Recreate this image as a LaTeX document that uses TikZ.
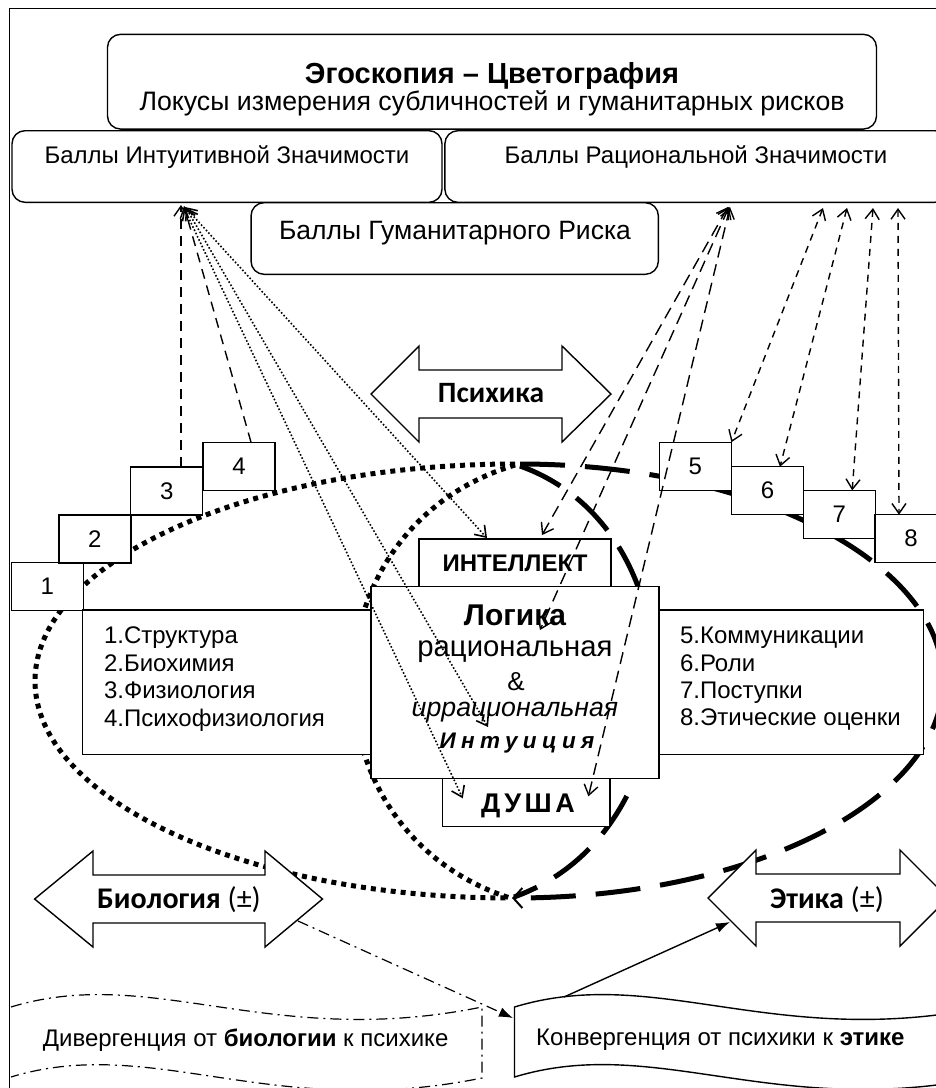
\documentclass[tikz,border=0pt]{standalone}
\usepackage{fontspec}
\setmainfont{Liberation Sans}
\newfontfamily\calib{Carlito}
\newfontfamily\spacedI[LetterSpace=24]{Liberation Sans}
\newfontfamily\spacedD[LetterSpace=13]{Liberation Sans}
\usetikzlibrary{arrows.meta,calc}
\begin{document}
\begin{tikzpicture}[x=1pt,y=-1pt,
  >={Straight Barb[length=10pt,width=14pt]},
  every node/.style={inner sep=0pt,outer sep=0pt},
  box/.style={draw=black,line width=1.4pt,fill=white},
  rbox/.style={box,rounded corners=13pt},
  stepbox/.style={box,minimum width=72pt,minimum height=48pt,font=\fontsize{24}{24}\selectfont},
  dotbig/.style={line width=5pt,dash pattern=on 5pt off 5pt},
  dashbig/.style={line width=5pt,dash pattern=on 45pt off 20pt},
  thindot/.style={line width=1.6pt,dash pattern=on 1.6pt off 2pt},
  dashA/.style={line width=1.4pt,dash pattern=on 10pt off 7pt},
  dashB/.style={line width=1.4pt,dash pattern=on 12pt off 7pt},
  dashC/.style={line width=1.4pt,dash pattern=on 7pt off 6pt},
  dashdot/.style={line width=1.2pt,dash pattern=on 11pt off 5pt on 2pt off 5pt},
  lbl/.style={font=\fontsize{24}{24}\selectfont},
  bigarrow/.style={draw=black,line width=1.4pt,fill=white,line join=miter}
]
\useasboundingbox (0,0) rectangle (936,1088);
\clip (0,0) rectangle (936,1088);
\fill[white] (0,0) rectangle (936,1088);

% ---- ellipse-like cycles (behind boxes)
\draw[dotbig] (515,464) .. controls (250,464) and (35,561) .. (35,681)
  .. controls (35,801) and (250,898) .. (510,898);
\draw[dotbig] (515,465) .. controls (300,530) and (300,830) .. (510,898);
\draw[dashbig,-{Straight Barb[length=9pt,width=20pt,line width=2pt]}] (520,464) .. controls (751,464) and (943,561) .. (943,681)
  .. controls (943,801) and (751,898) .. (512,898);
\draw[dashbig] (520,466) .. controls (700,530) and (700,830) .. (514,897);

% ---- top boxes
\node[rbox,minimum width=769pt,minimum height=94.7pt] (top) at (492,81.7) {};
\node[font=\bfseries\fontsize{29}{29}\selectfont] (title) at (492,76) {Эгоскопия – Цветография};
\node[font=\fontsize{26.7}{26.7}\selectfont] (subtitle) at (492,103) {Локусы измерения субличностей и гуманитарных рисков};
\node[rbox,minimum width=430pt,minimum height=71.6pt] (bint) at (227,166.5) {};
\node[rbox,minimum width=503pt,minimum height=71.6pt] (brat) at (696.4,166.5) {};
\node[lbl] (tInt) at (227,157) {Баллы Интуитивной Значимости};
\node[lbl] (tRat) at (696,157) {Баллы Рациональной Значимости};
\node[rbox,minimum width=407.3pt,minimum height=71.6pt] (bhum) at (454.7,238.5) {};
\node[font=\fontsize{26.5}{26.5}\selectfont] (tHum) at (455,233) {Баллы Гуманитарного Риска};

% ---- step boxes
\node[stepbox] (s1) at (47.2,586.4) {1};
\node[stepbox] (s2) at (94.9,538.9) {2};
\node[stepbox] (s3) at (166.7,490.9) {3};
\node[stepbox] (s4) at (239,466.2) {4};
\node[stepbox] (s5) at (695.4,466.2) {5};
\node[stepbox] (s6) at (767.5,490.7) {6};
\node[stepbox] (s7) at (839.2,514.4) {7};
\node[stepbox] (s8) at (911,538.7) {8};

% ---- list boxes and centre
\node[box,minimum width=288.3pt,minimum height=144.3pt] (ll) at (226.9,682.2) {};
\node[box,minimum width=264.3pt,minimum height=144.3pt] (rl) at (791.2,682.2) {};
\node[anchor=west,align=left,font=\fontsize{24}{27.4}\selectfont] (ltxt) at (104,679)
  {1.Структура\\2.Биохимия\\3.Физиология\\4.Психофизиология};
\node[anchor=west,align=left,font=\fontsize{24}{27.4}\selectfont] (rtxt) at (680,679)
  {5.Коммуникации\\6.Роли\\7.Поступки\\8.Этические оценки};
\node[box,minimum width=288pt,minimum height=191.6pt] (cen) at (515,682.5) {};
\node[box,minimum width=192pt,minimum height=47.7pt,font=\bfseries\fontsize{24}{24}\selectfont] (intel) at (515,562.9) {ИНТЕЛЛЕКТ};
\node[box,minimum width=167.3pt,minimum height=48.4pt] (dusha) at (526.4,802.5) {};
\node[font=\spacedD\bfseries\fontsize{27}{27}\selectfont] (tDusha) at (528,806) {ДУША};
\node[font=\bfseries\fontsize{30}{30}\selectfont] (tLog) at (515,615) {Логика};
\node[font=\fontsize{29.3}{29.3}\selectfont] (tRac) at (515,652) {рациональная};
\node[font=\fontsize{26}{26}\selectfont] (tAmp) at (516,682) {\&};
\node[font=\itshape\fontsize{26.7}{26.7}\selectfont] (tIrr) at (515,712) {иррациональная};
\node[font=\spacedI\bfseries\itshape\fontsize{22.5}{22.5}\selectfont] (tIntu) at (517,743) {Интуиция};

% ---- big double arrows
\draw[bigarrow] (371,394) -- (419,346) -- (419,370) -- (562,370) -- (562,346) -- (611,394)
  -- (562,442) -- (562,418) -- (419,418) -- (419,442) -- cycle;
\node[font=\calib\bfseries\fontsize{29.5}{29.5}\selectfont] (tPsy) at (491,393) {Психика};
\draw[bigarrow] (34.6,899) -- (93,851) -- (93,875) -- (265,875) -- (265,851) -- (322.5,899)
  -- (265,947) -- (265,923) -- (93,923) -- (93,947) -- cycle;
\node[font=\calib\fontsize{30}{30}\selectfont] (tBio) at (179,900) {\textbf{Биология} (±)};
\draw[bigarrow] (708,898) -- (756,850) -- (756,874) -- (900,874) -- (900,850) -- (948,898)
  -- (900,946) -- (900,922) -- (756,922) -- (756,946) -- cycle;
\node[font=\calib\fontsize{30}{30}\selectfont] (tEth) at (827,900) {\textbf{Этика} (±)};

% ---- wave boxes
\draw[dashdot] (11,1007) .. controls (152,964) and (270,1050) .. (482,1007) -- (482,1078)
  .. controls (270,1121) and (152,1034) .. (11,1077);
\node[font=\fontsize{24}{24}\selectfont] (tDiv) at (245.6,1040) {Дивергенция от \textbf{биологии} к психике};
\draw[line width=1.4pt] (514.5,1007) .. controls (656,964) and (774,1050) .. (986,1007) -- (986,1077)
  .. controls (774,1120) and (656,1034) .. (514.5,1077) -- cycle;
\node[font=\fontsize{24}{24}\selectfont] (tConv) at (720.4,1040) {Конвергенция от психики к \textbf{этике}};

% ---- connector anchor points
\coordinate (cI) at (181,205);
\coordinate (cR) at (728,207);
\coordinate (r5) at (823,208);
\coordinate (r6) at (847,208);
\coordinate (r7) at (873,208);
\coordinate (r8) at (898,208);
\coordinate (pIrr) at (488,727);
\coordinate (pLog) at (540,630);
\coordinate (bioOut) at (298,921);
\coordinate (convIn) at (513,1018);
\coordinate (convOut) at (564,997);
\coordinate (ethIn) at (730,922);

% ---- connectors
\draw[dashA,->] (cI |- s3.north) -- (cI);
\draw[dashA,->] ($(s4.north)+(12,0)$) -- ($(cI)+(3,1)$);
\draw[thindot,<->] ($(cI)+(4,2)$) -- ($(intel.north west)+(68,-1)$);
\draw[thindot,<->] ($(cI)+(5,3)$) -- (pIrr);
\draw[thindot,<->] ($(cI)+(3,3)$) -- ($(dusha.north west)+(20,20)$);
\draw[dashB,<->] (cR) -- ($(intel.north)+(27,-4)$);
\draw[dashB,<->] ($(cR)+(1,0)$) -- (pLog);
\draw[dashB,<->] ($(cR)+(2,0)$) -- ($(dusha.north)+(62,18)$);
\draw[dashC,<->] (r5) -- (s5.north east);
\draw[dashC,<->] (r6) -- ($(s6.north)+(12.5,0)$);
\draw[dashC,<->] (r7) -- ($(s7.north)+(13,0)$);
\draw[dashC,<->] (r8) -- ($(s8.north)+(-12,0)$);
\draw[dashdot,-{Latex[length=14pt,width=10pt]}] (bioOut) -- (convIn);
\draw[line width=1.4pt,-{Latex[length=14pt,width=10pt]}] (convOut) -- (ethIn);

% ---- frame
\draw[line width=1.3pt] (9.3,1100) -- (9.3,8.3) -- (950,8.3);
\end{tikzpicture}
\end{document}
